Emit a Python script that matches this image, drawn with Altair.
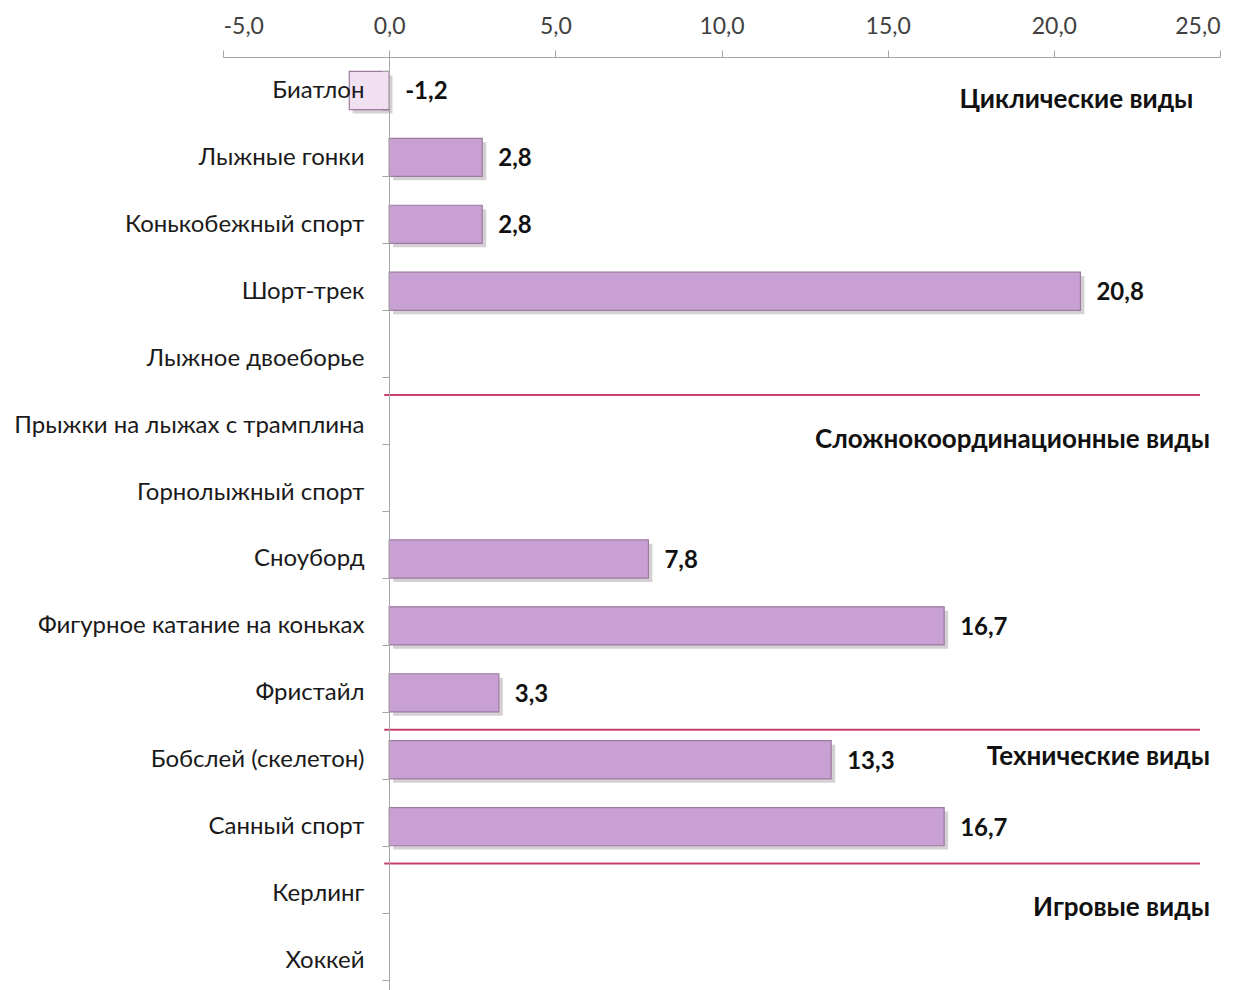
import altair as alt
import pandas as pd

categories = ["Биатлон", "Лыжные гонки", "Конькобежный спорт", "Шорт-трек",
              "Лыжное двоеборье", "Прыжки на лыжах с трамплина", "Горнолыжный спорт",
              "Сноуборд", "Фигурное катание на коньках", "Фристайл",
              "Бобслей (скелетон)", "Санный спорт", "Керлинг", "Хоккей"]
values = [-1.2, 2.8, 2.8, 20.8, None, None, None, 7.8, 16.7, 3.3, 13.3, 16.7, None, None]
value_labels = ["-1,2", "2,8", "2,8", "20,8", "", "", "", "7,8", "16,7", "3,3", "13,3", "16,7", "", ""]

group_names = ["Циклические виды", "Сложнокоординационные виды", "Технические виды", "Игровые виды"]
group_anchor = ["Биатлон", "Прыжки на лыжах с трамплина", "Бобслей (скелетон)", "Керлинг"]
group_x = [24.2, 24.7, 24.7, 24.7]
group_dy = [29, 34, 16, 33]

separator_before = ["Прыжки на лыжах с трамплина", "Бобслей (скелетон)", "Керлинг"]
sep_start = [-0.15, -0.15, -0.15]
sep_end = [24.4, 24.4, 24.4]

FONT = "Lato"

df = pd.DataFrame({"cat": categories, "value": values, "label": value_labels})
bars_df = df.dropna(subset=["value"]).copy()
bars_df["lx"] = bars_df["value"].clip(lower=0)

groups_df = pd.DataFrame({"name": group_names, "cat": group_anchor, "x": group_x, "dy": group_dy})
sep_df = pd.DataFrame({"cat": separator_before, "x1": sep_start, "x2": sep_end})

xscale = alt.Scale(domain=[-5, 25], nice=False, zero=False)
yscale = alt.Scale(domain=categories, paddingInner=0.43, paddingOuter=0.215)

x_axis = alt.Axis(orient="top", values=[-5, 0, 5, 10, 15, 20, 25], grid=False,
                  labelExpr="replace(replace(format(datum.value, '.1f'), '.', ','), '\u2212', '-')",
                  labelFont=FONT, labelFontSize=23, labelColor="#404040",
                  domainColor="#A6A6A6", tickColor="#A6A6A6", tickSize=7,
                  labelPadding=12, title=None)
y_axis = alt.Axis(orient="left", offset=-166, grid=False, tickBand="extent", zindex=1,
                  labelFont=FONT, labelFontSize=24, labelColor="#1a1a1a",
                  domainColor="#A6A6A6", tickColor="#A6A6A6", tickSize=7,
                  labelPadding=18, labelLimit=400, title=None)

base = alt.Chart(bars_df)

shadow = base.transform_calculate(
    sx="datum.value < 0 ? datum.value + 0.1 : datum.value + 0.12",
    sx0="datum.value < 0 ? 0.1 : 0.12",
).mark_bar(color="#6f6470", opacity=0.3, height=38).encode(
    x=alt.X("sx:Q", scale=xscale, axis=x_axis),
    x2="sx0:Q",
    y=alt.Y("cat:N", scale=yscale, axis=y_axis, sort=categories),
    yOffset=alt.value(23),
)

bars = base.mark_bar(stroke="#9C7A9E", strokeWidth=1.2).encode(
    x=alt.X("value:Q", scale=xscale, axis=x_axis),
    x2=alt.datum(0),
    y=alt.Y("cat:N", scale=yscale, axis=y_axis, sort=categories),
    color=alt.condition("datum.value < 0", alt.value("#F1E0F1"), alt.value("#C9A0D4")),
)

labels = base.mark_text(align="left", baseline="middle", dx=16, dy=2,
                        font=FONT, fontSize=24, fontWeight="bold", color="#111111").encode(
    x=alt.X("lx:Q", scale=xscale),
    y=alt.Y("cat:N", scale=yscale, sort=categories),
    text="label:N",
)

seps = alt.Chart(sep_df).mark_rule(color="#C8416E", strokeWidth=2).encode(
    x=alt.X("x1:Q", scale=xscale),
    x2="x2:Q",
    y=alt.Y("cat:N", scale=yscale, sort=categories),
    yOffset=alt.YOffset("off:Q", scale=None),
).transform_calculate(off="-11")

group_text = alt.Chart(groups_df).mark_text(align="right", baseline="middle",
                                            font=FONT, fontSize=26, fontWeight="bold",
                                            color="#111111").encode(
    x=alt.X("x:Q", scale=xscale),
    y=alt.Y("cat:N", scale=yscale, sort=categories),
    yOffset=alt.YOffset("dy:Q", scale=None),
    text="name:N",
)

chart = alt.layer(shadow, bars, labels, seps, group_text).properties(
    width=997, height=937,
    autosize=alt.AutoSizeParams(type="none"),
    padding={"left": 215, "top": 49, "right": 20, "bottom": 0},
    background="white",
).configure_view(stroke=None)

chart.save("out.html", embed_options={"renderer": "svg", "actions": False})
